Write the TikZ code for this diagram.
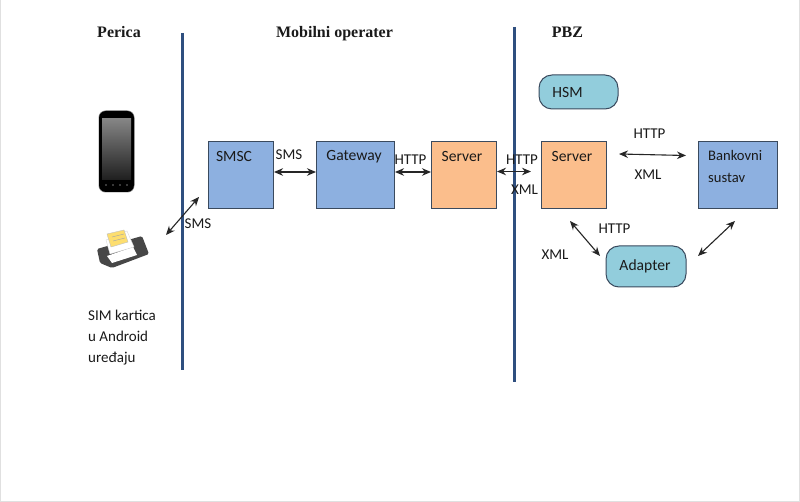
\documentclass[tikz,border=0pt]{standalone}
\usepackage{fontspec}
\setmainfont{Carlito}
\newfontfamily\serifb{Liberation Serif}[BoldFont={Liberation Serif Bold}]
\usetikzlibrary{arrows.meta}
\definecolor{lineblue}{HTML}{2F4F7F}
\definecolor{boxblue}{HTML}{8DB0E0}
\definecolor{boxorange}{HTML}{FBBE8C}
\definecolor{boxteal}{HTML}{92CDDC}
\definecolor{edge}{HTML}{3A4A5E}
\definecolor{txt}{HTML}{1A1A1A}
\tikzset{
  x=1pt,y=-1pt,
  box/.style={draw=edge,line width=1pt,anchor=north west,inner sep=0pt},
  bluebox/.style={box,fill=boxblue},
  orangebox/.style={box,fill=boxorange},
  pill/.style={draw=edge,line width=1pt,fill=boxteal,rounded corners=13pt,inner sep=0pt},
  lab/.style={font=\fontsize{15}{18}\selectfont,text=txt,inner sep=0pt},
  blab/.style={font=\fontsize{15.6}{18}\selectfont,text=txt,inner sep=0pt},
  head/.style={font=\serifb\bfseries\fontsize{16}{19}\selectfont,text=txt,inner sep=0pt},
  arr/.style={draw=black!85,line width=1.1pt,{Stealth[length=9pt,width=7.5pt]}-{Stealth[length=9pt,width=7.5pt]}},
  divider/.style={draw=lineblue,line width=3pt},
}
\begin{document}
\begin{tikzpicture}
\useasboundingbox (0,0) rectangle (800,502);
\fill[white] (0,0) rectangle (800,502);
\draw[black!12,line width=.8pt] (.5,0) -- (.5,501.5) -- (799.5,501.5) -- (799.5,0);
% dividers
\coordinate (d1a) at (182,33); \coordinate (d1b) at (182,370);
\coordinate (d2a) at (514,27); \coordinate (d2b) at (514,382);
\draw[divider] (d1a) -- (d1b);
\draw[divider] (d2a) -- (d2b);
% headings
\node[head] (perica) at (119,32) {Perica};
\node[head] (mob) at (334.5,33.5) {Mobilni operater};
\node[head] (pbz) at (567.5,32) {PBZ};
% phone
\begin{scope}
\fill[black!45,rounded corners=7pt] (98.5,110.5) rectangle (134.5,192.5);
\fill[black,rounded corners=7pt] (99,111) rectangle (134,192);
\shade[top color=black!48,bottom color=black!88] (102,119) rectangle (131,180);
\foreach \px in {106,113,120,127}{\fill[black!55] (\px,185) circle (.8);}
\end{scope}
% SIM card
\begin{scope}
\fill[black!72,rounded corners=1.5pt] (97,249) -- (142,236) -- (149,254) -- (112,268) -- (100,263) -- cycle;
\fill[white] (107,256) -- (133,247) -- (137,255) -- (112,263) -- cycle;
\fill[white,draw=black!15] (106,240) -- (127,231) -- (134,247) -- (110,254) -- cycle;
\fill[yellow!60!orange!55,draw=black!25] (107,234) -- (124,230) -- (128,242) -- (111,247) -- cycle;
\draw[black!35,line width=.4pt] (112,237) -- (124,234) (113,241) -- (125,238);
\end{scope}
% boxes
\node[bluebox,minimum width=65pt,minimum height=67pt] (smsc) at (208,141) {};
\node[bluebox,minimum width=78pt,minimum height=67pt] (gateway) at (316,141) {};
\node[orangebox,minimum width=65pt,minimum height=67pt] (srvm) at (431,141) {};
\node[orangebox,minimum width=65pt,minimum height=67pt] (srvp) at (541,141) {};
\node[bluebox,minimum width=79pt,minimum height=67pt] (bank) at (698,141) {};
\node[pill,minimum width=80pt,minimum height=41pt] (adapter) at (646,266.5) {};
\node[pill,minimum width=79pt,minimum height=34pt] (hsm) at (578.5,92) {};
% box texts
\node[blab] (tsmsc) at (234,156) {SMSC};
\node[blab] (tgw) at (354,156.5) {Gateway};
\node[blab] (tsm) at (462,156.5) {Server};
\node[blab] (tsp) at (572,156.5) {Server};
\node[lab,align=left,anchor=north west,font=\fontsize{14.6}{22}\selectfont] (tbk) at (708,150) {Bankovni\\sustav};
\node[blab] (tad) at (645,266) {Adapter};
\node[blab] (ths) at (567.5,92.5) {HSM};
% arrows
\draw[arr] (smsc.east) ++(0,-3) coordinate (a1) -- (gateway.west |- a1);
\path (srvm.west) ++(0,-3) coordinate (a2);
\draw[arr] (gateway.east |- a2) -- (a2);
\path (srvm.east) ++(0,-3.5) coordinate (a3);
\coordinate (a3e) at (531,171.5);
\draw[arr] (a3) -- (a3e);
\coordinate (b1) at (619,154); \coordinate (b2) at (686,155.5);
\draw[arr] (b1) -- (b2);
\coordinate (c1) at (570,221); \coordinate (c2) at (600,256);
\draw[arr] (c1) -- (c2);
\coordinate (e1) at (735,221); \coordinate (e2) at (698,256);
\draw[arr] (e1) -- (e2);
\coordinate (s1) at (166,235); \coordinate (s2) at (199,197);
\draw[arr] (s1) -- (s2);
% connector labels
\node[lab] (l1) at (198,223.5) {SMS};
\node[lab] (l2) at (289,155) {SMS};
\node[lab] (l3) at (410.5,159.5) {HTTP};
\node[lab] (l4) at (522,160) {HTTP};
\node[lab] (l5) at (524.5,190) {XML};
\node[lab] (l6) at (649.5,134) {HTTP};
\node[lab] (l7) at (648,175) {XML};
\node[lab] (l8) at (614.5,228.5) {HTTP};
\node[lab] (l9) at (555,254.5) {XML};
% left caption
\node[lab,align=left,anchor=north west,font=\fontsize{15}{21}\selectfont] (cap) at (88,310) {SIM kartica\\u Android\\uređaju};
\end{tikzpicture}
\end{document}
